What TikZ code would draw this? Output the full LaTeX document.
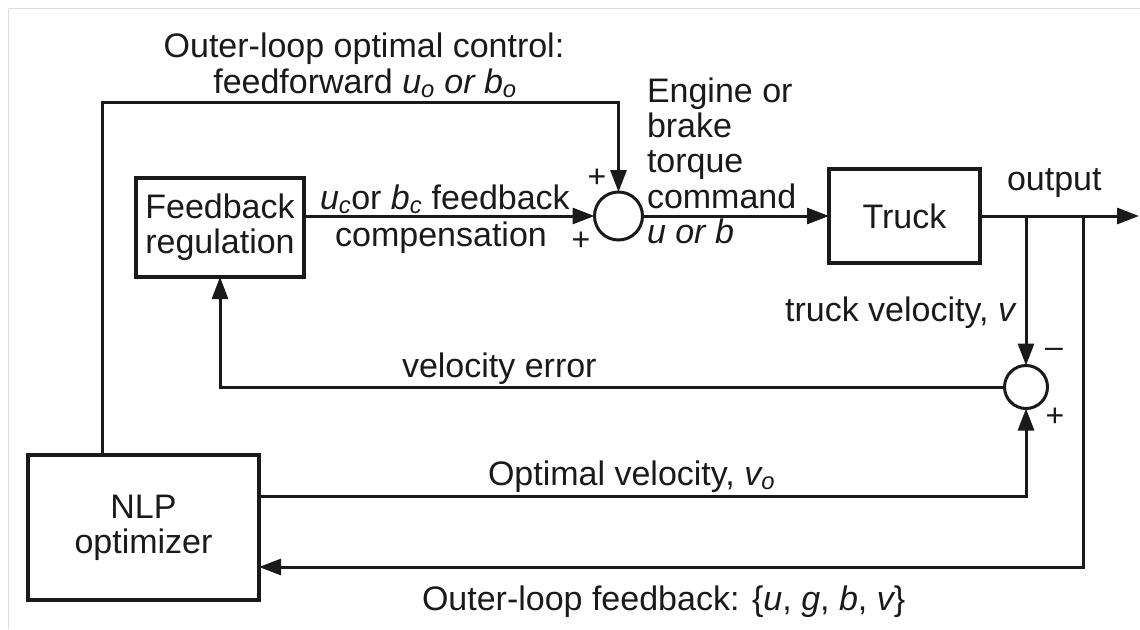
\documentclass[tikz,border=0pt]{standalone}
\usepackage{fontspec}
\setmainfont{Liberation Sans}
\usetikzlibrary{arrows.meta,calc}

\definecolor{ink}{HTML}{1A1A1A}
\definecolor{frame}{HTML}{DEDEDE}

\begin{document}
\begin{tikzpicture}[x=1pt,y=-1pt,
  every node/.style={font=\fontsize{34}{35}\selectfont, text=ink, inner sep=0pt, outer sep=0pt},
  blk/.style={draw=ink, line width=4.8pt, rectangle, align=center},
  sumnode/.style={draw=ink, circle, line width=3pt, inner sep=0pt},
  wire/.style={draw=ink, line width=3pt},
  arr/.style={wire, -{Triangle[length=22pt,width=16pt]}},
  lbl/.style={anchor=base},
  lblw/.style={anchor=base west},
  lble/.style={anchor=base east},
  sgn/.style={font=\fontsize{32}{32}\selectfont}
]
% page size
\useasboundingbox (0,0) rectangle (1140,629);
\fill[white] (0,0) rectangle (1140,629);
\draw[frame, line width=1pt] (8,629) -- (8,8) -- (1140,8);

% blocks
\node[blk, minimum width=168pt, minimum height=99pt] (fb) at (220,227.5) {Feedback\\regulation};
\node[blk, minimum width=151pt, minimum height=94pt] (truck) at (904.5,216) {Truck};
\node[blk, minimum width=231pt, minimum height=145pt] (nlp) at (143.5,527.5) {NLP\\optimizer};

% summing junctions
\node[sumnode, minimum size=48pt] (sum1) at (618.5,216) {};
\node[sumnode, minimum size=43pt] (sum2) at (1026,387) {};

% junction points and free ends
\coordinate (out) at (1139,216);
\coordinate (b1) at (1026,216);
\coordinate (b2) at (1083,216);
\coordinate (fbk) at (1083,567);
\coordinate (ff) at (102,102);
\coordinate (ov) at (1026,496);

% forward path
\draw[arr] (fb.east |- sum1.west) -- (sum1.west);
\draw[arr] (sum1.east) -- (truck.west);
\draw[arr] (truck.east) -- (out);

% feedforward from the optimizer
\draw[arr] (ff |- nlp.north) -- (ff) -| (sum1.north);

% velocity loop
\draw[arr] (b1) -- (sum2.north);
\draw[arr] (sum2.west) -| (fb.south);
\draw[arr] (nlp.east |- ov) -- (ov) -- (sum2.south);

% outer-loop feedback
\draw[arr] (b2) -- (fbk) -- (fbk -| nlp.east);

% labels
\node[lbl] (lffa) at (364,57) {Outer-loop optimal control:};
\node[lbl] (lffb) at (365,93) {feedforward {\itshape u\textsubscript{o} or b\textsubscript{o}}};
\node[lblw] (lfca) at (320,209) {{\itshape u\textsubscript{c}}or {\itshape b\textsubscript{c}} feedback};
\node[lbl] (lfcb) at (441,246) {compensation};
\node[lblw] (le1) at (647,102) {Engine or};
\node[lblw] (le2) at (647,137) {brake};
\node[lblw] (le3) at (647,172) {torque};
\node[lblw] (le4) at (647,208) {command};
\node[lblw] (le5) at (647,243) {\itshape u or b};
\node[lblw] (lout) at (1007,190) {output};
\node[lble] (ltv) at (1015,321) {truck velocity, {\itshape v}};
\node[lblw] (lve) at (402,377) {velocity error};
\node[lblw] (lov) at (488,485) {Optimal velocity, {\itshape v\textsubscript{o}}};
\node[lblw] (lof) at (422,610) {Outer-loop feedback: \{{\itshape u}, {\itshape g}, {\itshape b}, {\itshape v}\}};

% signs at the junctions
\node[sgn] (s1a) at (597,178) {+};
\node[sgn] (s1b) at (581,241) {+};
\node[sgn] (s2a) at (1054,353) {–};
\node[sgn] (s2b) at (1055,417) {+};
\end{tikzpicture}
\end{document}
